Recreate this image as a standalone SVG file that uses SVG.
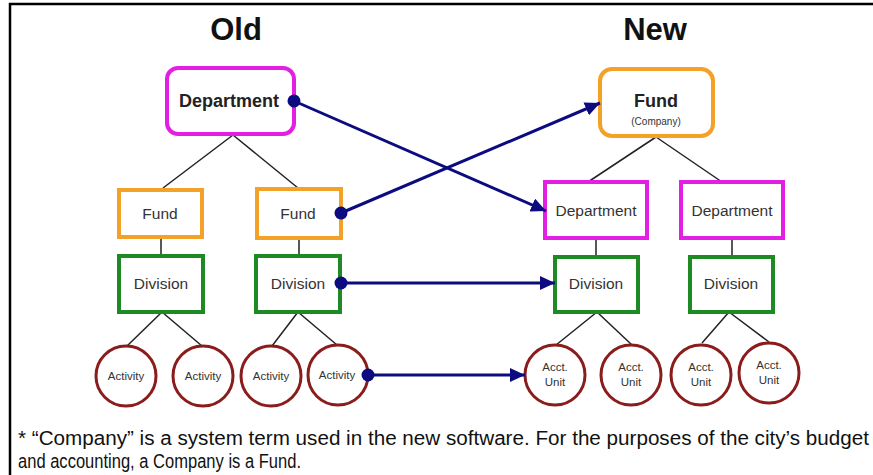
<svg xmlns="http://www.w3.org/2000/svg" width="873" height="475" viewBox="0 0 873 475">
<style>
text{font-family:"Liberation Sans",Arial,sans-serif;fill:#333;text-anchor:middle}
.title{font-size:31px;font-weight:bold;fill:#111}
.big{font-size:18px;font-weight:bold;fill:#222}
.lbl{font-size:15.5px}
.sm{font-size:11.5px}
.mag{fill:#fff;stroke:#e21fe2;stroke-width:4}
.org{fill:#fff;stroke:#f4a128;stroke-width:4}
.grn{fill:#fff;stroke:#1e8a23;stroke-width:4}
.red{fill:#fff;stroke:#8b1c1c;stroke-width:3}
.tree{stroke:#222;stroke-width:1.5;fill:none}
.arr{stroke:#0c0c80;stroke-width:3;fill:none;marker-start:url(#dot);marker-end:url(#head)}
.note{font-size:20px;fill:#111;text-anchor:start}
</style>
<defs>
<marker id="head" markerUnits="userSpaceOnUse" markerWidth="16" markerHeight="14" refX="15" refY="7" orient="auto"><path d="M0,0 L15,7 L0,14 z" fill="#0c0c80"/></marker>
<marker id="dot" markerUnits="userSpaceOnUse" markerWidth="14" markerHeight="14" refX="7" refY="7" orient="auto"><circle cx="7" cy="7" r="6.5" fill="#0c0c80"/></marker>
</defs>
<rect width="873" height="475" fill="#fff"/>
<path d="M10,475 V4 H873" fill="none" stroke="#000" stroke-width="2.5"/>
<text class="title" x="236" y="40">Old</text>
<text class="title" x="655" y="40">New</text>
<g id="tree-lines" class="tree">
<path d="M233,135 L163,188 M233,135 L298,188"/>
<path d="M161,237 V256 M299,238 V256"/>
<path d="M162,312 L127,346 M162,312 L202,346 M298,312 L272,346 M298,312 L337,345"/>
<path d="M656,137 L588,182 M656,137 L722,182"/>
<path d="M596,238 V257 M732,238 V257"/>
<path d="M597,312 L556,345 M597,312 L632,345 M729,312 L702,343 M729,312 L769,342"/>
</g>
<g id="old-department"><rect class="mag" x="167" y="68" width="127" height="66" rx="11"/><text class="big" x="229" y="107">Department</text></g>
<g id="old-fund-1"><rect class="org" x="119" y="190" width="83" height="47"/><text class="lbl" x="160" y="219">Fund</text></g>
<g id="old-fund-2"><rect class="org" x="257" y="189" width="84" height="49"/><text class="lbl" x="298" y="219">Fund</text></g>
<g id="old-division-1"><rect class="grn" x="119" y="256" width="84" height="56"/><text class="lbl" x="161" y="289">Division</text></g>
<g id="old-division-2"><rect class="grn" x="256" y="256" width="84" height="56"/><text class="lbl" x="298" y="289">Division</text></g>
<g id="old-activity-1"><circle class="red" cx="126" cy="376" r="30"/><text class="sm" x="126" y="380">Activity</text></g>
<g id="old-activity-2"><circle class="red" cx="203" cy="376" r="30"/><text class="sm" x="203" y="380">Activity</text></g>
<g id="old-activity-3"><circle class="red" cx="271" cy="376" r="30"/><text class="sm" x="271" y="380">Activity</text></g>
<g id="old-activity-4"><circle class="red" cx="338" cy="375" r="30"/><text class="sm" x="337" y="379">Activity</text></g>
<g id="new-fund"><rect class="org" x="600" y="69" width="113" height="67" rx="12"/><text class="big" x="656" y="107">Fund</text><text x="656" y="125" style="font-size:10px">(Company)</text></g>
<g id="new-department-1"><rect class="mag" x="545" y="182" width="102" height="56"/><text class="lbl" x="596" y="216">Department</text></g>
<g id="new-department-2"><rect class="mag" x="681" y="182" width="102" height="56"/><text class="lbl" x="732" y="216">Department</text></g>
<g id="new-division-1"><rect class="grn" x="555" y="257" width="83" height="55"/><text class="lbl" x="596" y="289">Division</text></g>
<g id="new-division-2"><rect class="grn" x="690" y="257" width="83" height="55"/><text class="lbl" x="731" y="289">Division</text></g>
<g id="new-acct-1"><circle class="red" cx="555" cy="375" r="30"/><text class="sm" x="555" y="371">Acct.</text><text class="sm" x="555" y="386">Unit</text></g>
<g id="new-acct-2"><circle class="red" cx="631" cy="375" r="30"/><text class="sm" x="631" y="371">Acct.</text><text class="sm" x="631" y="386">Unit</text></g>
<g id="new-acct-3"><circle class="red" cx="701" cy="375" r="30"/><text class="sm" x="701" y="371">Acct.</text><text class="sm" x="701" y="386">Unit</text></g>
<g id="new-acct-4"><circle class="red" cx="769" cy="373" r="30"/><text class="sm" x="769" y="369">Acct.</text><text class="sm" x="769" y="384">Unit</text></g>
<g id="connectors">
<path class="arr" d="M294,101 L546,211"/>
<path class="arr" d="M341,213 L600,103"/>
<path class="arr" d="M341,283 L555,283"/>
<path class="arr" d="M368,375 L525,375"/>
</g>
<text class="note" x="18" y="445" textLength="851" lengthAdjust="spacingAndGlyphs">* “Company” is a system term used in the new software. For the purposes of the city’s budget</text>
<text class="note" x="18" y="468" textLength="283" lengthAdjust="spacingAndGlyphs">and accounting, a Company is a Fund.</text>
</svg>
